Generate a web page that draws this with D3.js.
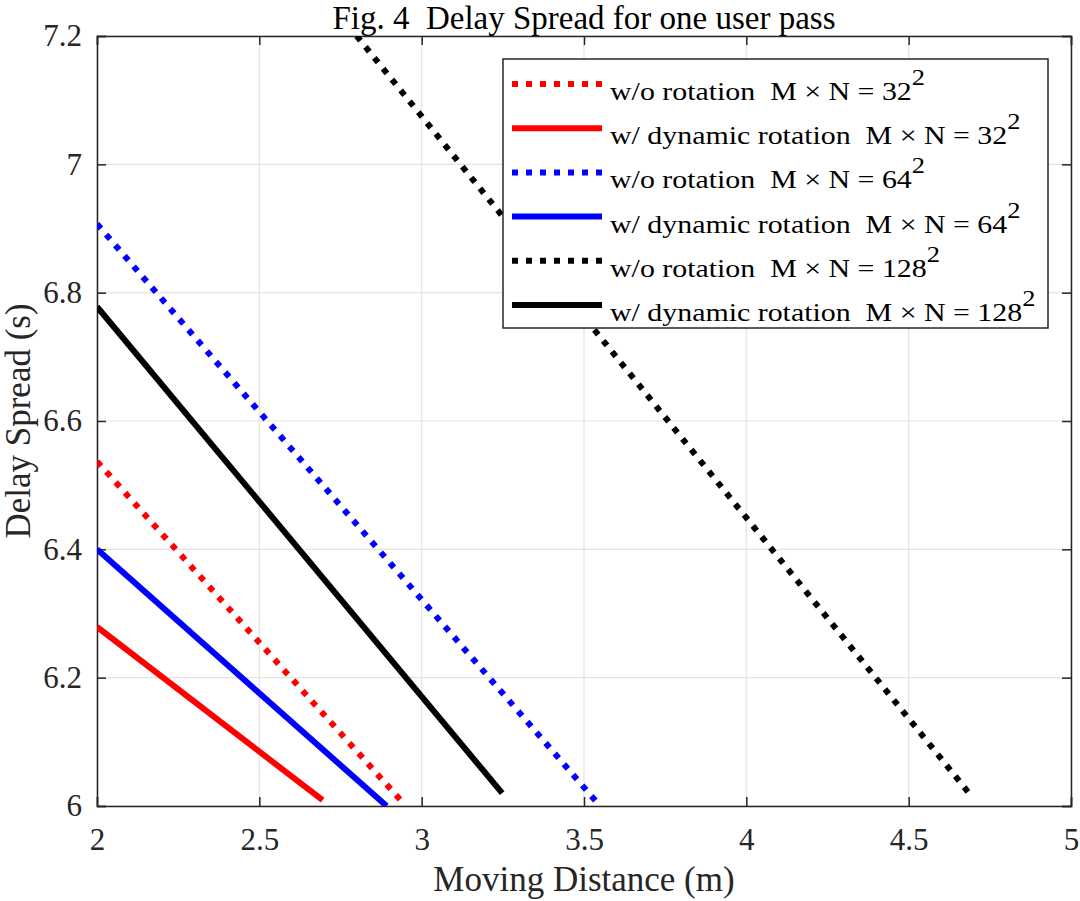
<!DOCTYPE html>
<html>
<head>
<meta charset="utf-8">
<script src="https://cdn.jsdelivr.net/npm/d3@7"></script>
<style>
    html, body { margin: 0; padding: 0; background: #fff; }
    svg text { font-family: "Liberation Serif", "Times New Roman", serif !important; }
</style>
</head>
<body>
<div id="chart"></div>
<script>
// 坐标轴刻度
let xTicks = [2, 2.5, 3, 3.5, 4, 4.5, 5];
let yTicks = [6, 6.2, 6.4, 6.6, 6.8, 7, 7.2];

// 各条曲线 (从图中读出的端点)
let seriesNames = [
    "w/o rotation  M \u00d7 N = 32",
    "w/ dynamic rotation  M \u00d7 N = 32",
    "w/o rotation  M \u00d7 N = 64",
    "w/ dynamic rotation  M \u00d7 N = 64",
    "w/o rotation  M \u00d7 N = 128",
    "w/ dynamic rotation  M \u00d7 N = 128"
];
let seriesColors = ["#ff0000", "#ff0000", "#0000ff", "#0000ff", "#000000", "#000000"];
let seriesDotted = [true, false, true, false, true, false];
let seriesX = [
    [2, 2.937],
    [2, 2.695],
    [2, 3.541],
    [2, 2.892],
    [2.8, 4.686],
    [2, 3.248]
];
let seriesY = [
    [6.537, 6.008],
    [6.279, 6.009],
    [6.907, 6.005],
    [6.40, 6.0],
    [7.2, 6.02],
    [6.778, 6.02]
];

let width = 1080;
let height = 901;
let margin = {left: 97, right: 9, top: 36, bottom: 95};
let axisColor = "#262626";
let serif = "'Liberation Serif', 'Times New Roman', serif";

let svg = d3.select("#chart")
    .append("svg")
    .attr("width", width)
    .attr("height", height);

let xScale = d3.scaleLinear()
    .domain([2, 5])
    .range([margin.left, width - margin.right]);

let yScale = d3.scaleLinear()
    .domain([6, 7.2])
    .range([height - margin.bottom, margin.top]);

let x0 = xScale.range()[0], x1 = xScale.range()[1];
let y0 = yScale.range()[0], y1 = yScale.range()[1];

// 网格线
svg.append("g").selectAll("line")
    .data(xTicks)
    .enter()
    .append("line")
    .attr("x1", d => xScale(d)).attr("x2", d => xScale(d))
    .attr("y1", y1).attr("y2", y0)
    .attr("stroke", "#e3e3e3").attr("stroke-width", 1.2);

svg.append("g").selectAll("line")
    .data(yTicks)
    .enter()
    .append("line")
    .attr("x1", x0).attr("x2", x1)
    .attr("y1", d => yScale(d)).attr("y2", d => yScale(d))
    .attr("stroke", "#e3e3e3").attr("stroke-width", 1.2);

// 坐标轴 (刻度朝内，四边都有)
let tickFmt = d => d3.format("~g")(d);

svg.append("g")
    .attr("class", "axis")
    .attr("transform", "translate(0," + y0 + ")")
    .call(d3.axisBottom(xScale).tickValues(xTicks).tickSize(-9).tickPadding(22).tickFormat(tickFmt));
svg.append("g")
    .attr("class", "axis")
    .attr("transform", "translate(0," + y1 + ")")
    .call(d3.axisTop(xScale).tickValues(xTicks).tickSize(-9).tickFormat(""));
svg.append("g")
    .attr("class", "axis")
    .attr("transform", "translate(" + x0 + ",0)")
    .call(d3.axisLeft(yScale).tickValues(yTicks).tickSize(-9).tickPadding(15).tickFormat(tickFmt));
svg.append("g")
    .attr("class", "axis")
    .attr("transform", "translate(" + x1 + ",0)")
    .call(d3.axisRight(yScale).tickValues(yTicks).tickSize(-9).tickFormat(""));

svg.selectAll(".axis")
    .attr("font-family", serif)
    .attr("font-size", 31);
svg.selectAll(".domain").attr("stroke", axisColor).attr("stroke-width", 1.5);
svg.selectAll(".tick line").attr("stroke", axisColor).attr("stroke-width", 1.5);
svg.selectAll(".tick text").attr("fill", axisColor);

// 曲线
svg.append("clipPath")
    .attr("id", "plot-clip")
    .append("rect")
    .attr("x", x0).attr("y", y1)
    .attr("width", x1 - x0).attr("height", y0 - y1);

let line = d3.line()
    .x(d => xScale(d[0]))
    .y(d => yScale(d[1]));

svg.append("g")
    .attr("clip-path", "url(#plot-clip)")
    .selectAll("path")
    .data(seriesNames)
    .enter()
    .append("path")
    .attr("d", (d, i) => line(seriesX[i].map((x, j) => [x, seriesY[i][j]])))
    .attr("fill", "none")
    .attr("stroke", (d, i) => seriesColors[i])
    .attr("stroke-width", 6)
    .attr("stroke-dasharray", (d, i) => seriesDotted[i] ? "6 8" : null);

// 标题与轴标签
svg.append("text")
    .attr("x", (x0 + x1) / 2)
    .attr("y", 29)
    .attr("text-anchor", "middle")
    .attr("font-family", serif)
    .style("font-size", "33px")
    .style("white-space", "pre")
    .text("Fig. 4  Delay Spread for one user pass");

svg.append("text")
    .attr("x", (x0 + x1) / 2)
    .attr("y", 891)
    .attr("text-anchor", "middle")
    .attr("fill", axisColor)
    .attr("font-family", serif)
    .style("font-size", "35px")
    .text("Moving Distance (m)");

svg.append("text")
    .attr("transform", "translate(30," + ((y0 + y1) / 2) + ") rotate(-90)")
    .attr("text-anchor", "middle")
    .attr("fill", axisColor)
    .attr("font-family", serif)
    .style("font-size", "35px")
    .text("Delay Spread (s)");

// 图例
let legend = {x: 503, y: 59, w: 545, h: 269, rowTop: 84, rowStep: 44.2};

let lg = svg.append("g");
lg.append("rect")
    .attr("x", legend.x).attr("y", legend.y)
    .attr("width", legend.w).attr("height", legend.h)
    .attr("fill", "#fff")
    .attr("stroke", axisColor)
    .attr("stroke-width", 1.5);

let rows = lg.selectAll(".legend-row")
    .data(seriesNames)
    .enter()
    .append("g")
    .attr("class", "legend-row")
    .attr("transform", (d, i) => "translate(0," + (legend.rowTop + i * legend.rowStep) + ")");

rows.append("line")
    .attr("x1", 512).attr("x2", 602)
    .attr("y1", 0).attr("y2", 0)
    .attr("stroke", (d, i) => seriesColors[i])
    .attr("stroke-width", 6)
    .attr("stroke-dasharray", (d, i) => seriesDotted[i] ? "6 8" : null);

let rowText = rows.append("text")
    .attr("transform", "translate(610,16) scale(1.15,1)")
    .attr("font-family", serif)
    .style("font-size", "26px")
    .style("white-space", "pre");
rowText.append("tspan").text(d => d);
rowText.append("tspan")
    .attr("dy", -15)
    .style("font-size", "23px")
    .text("2");
</script>
</body>
</html>
